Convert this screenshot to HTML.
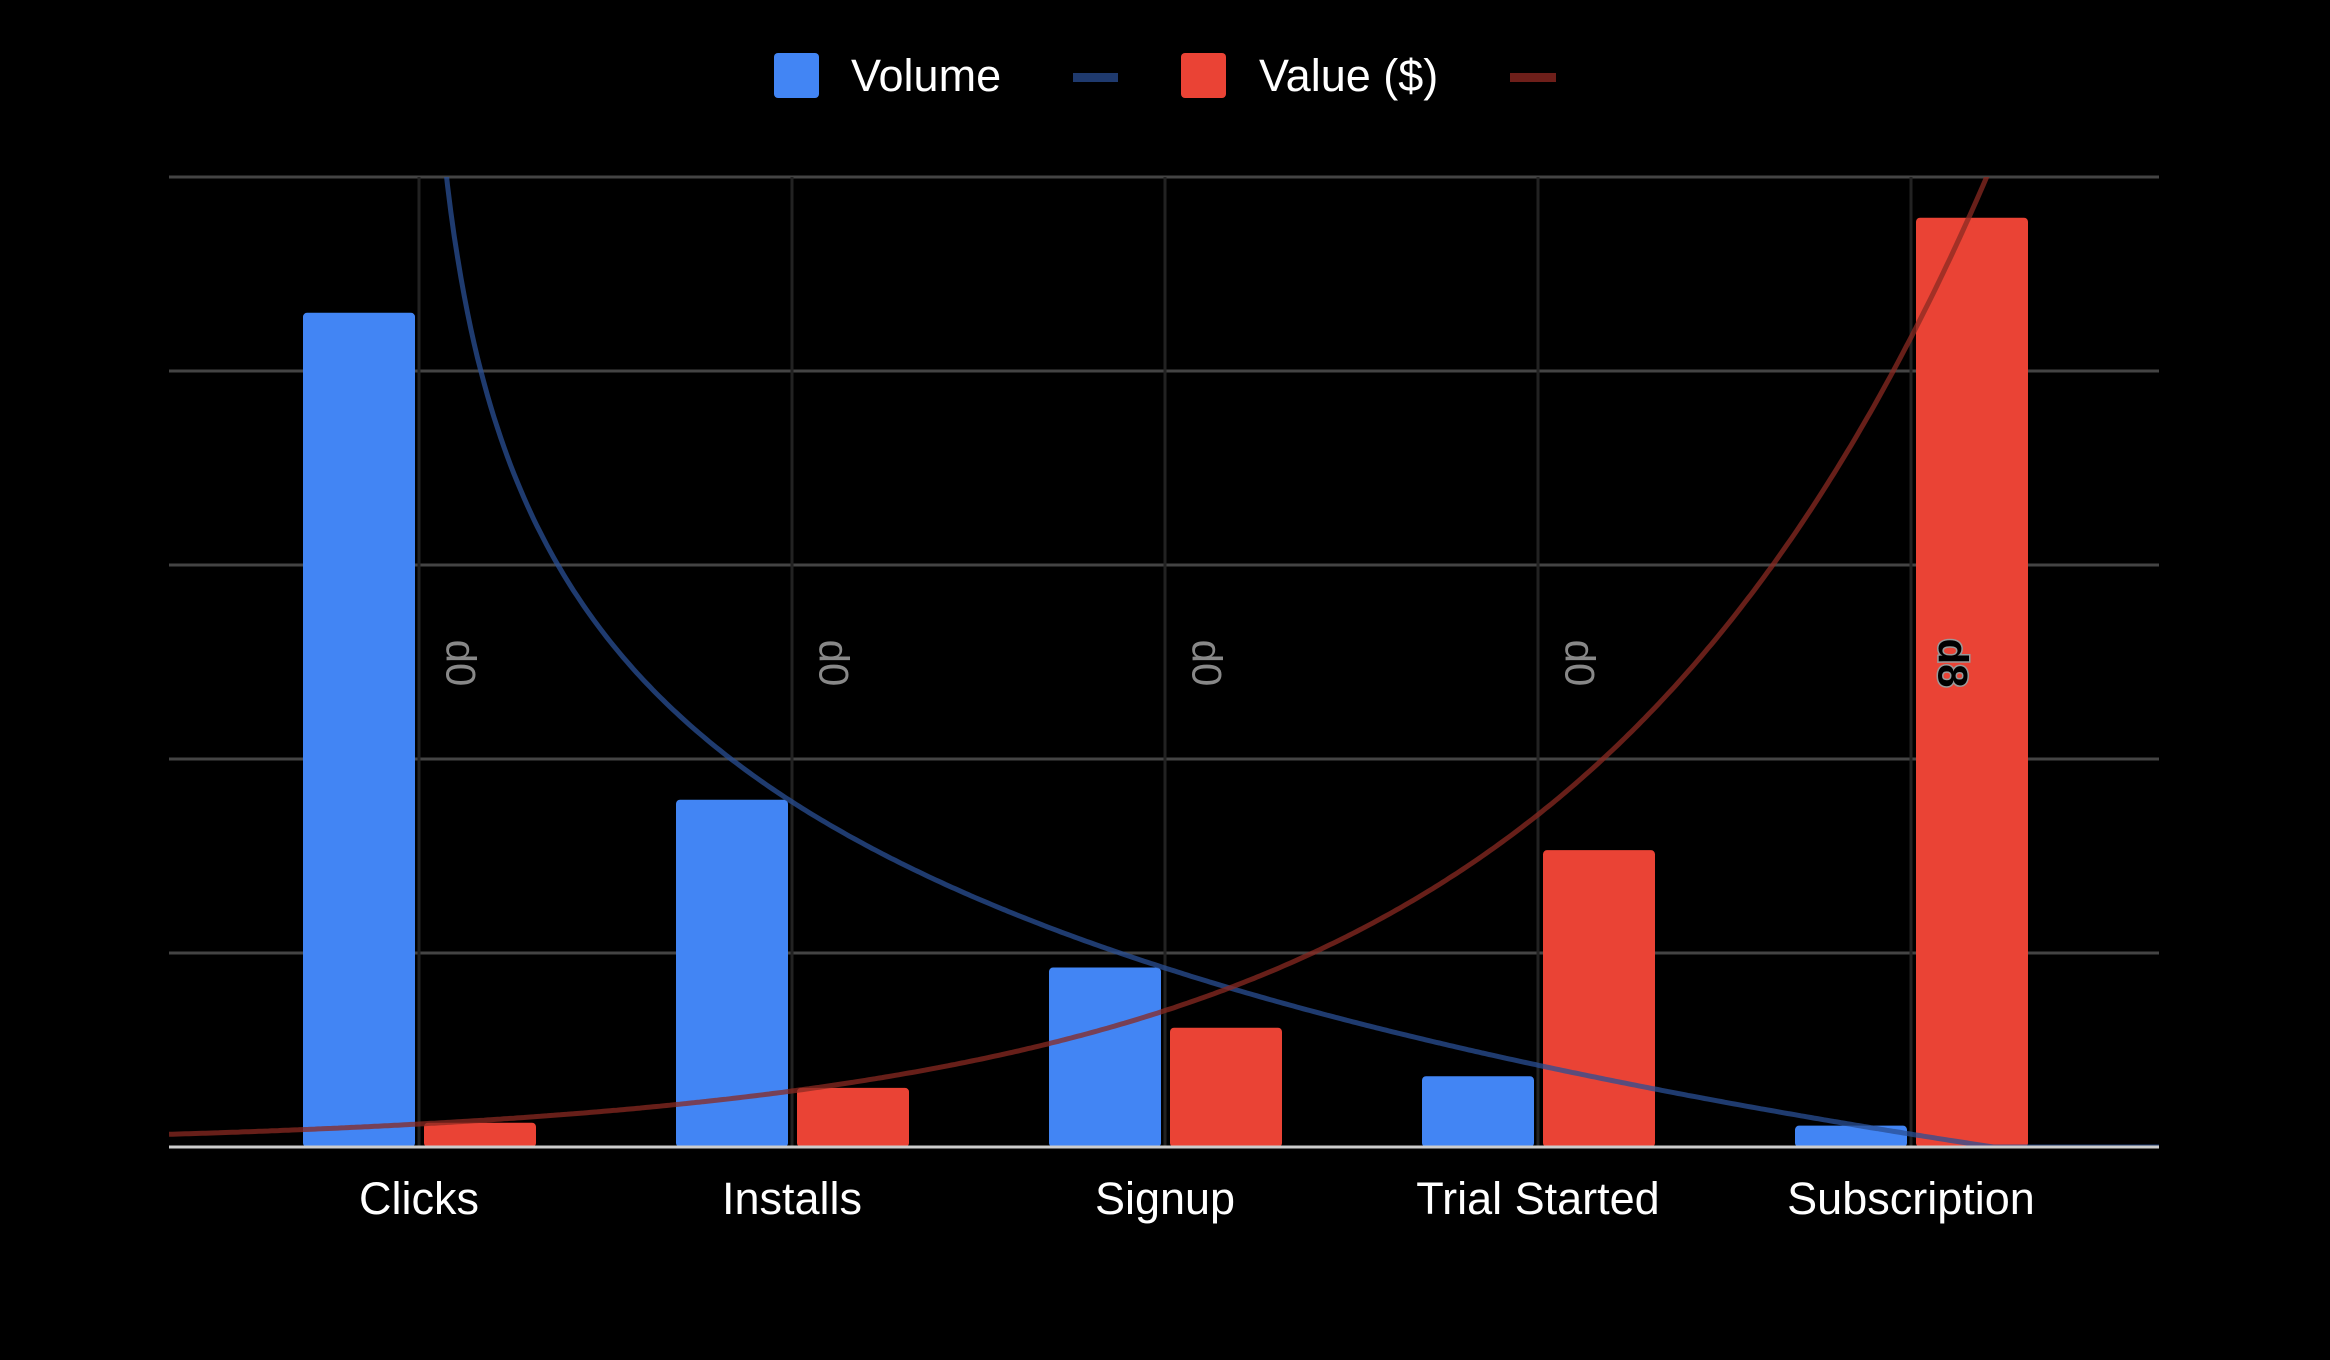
<!DOCTYPE html>
<html><head><meta charset="utf-8"><style>
html,body{margin:0;padding:0;background:#000;}
svg{display:block;font-family:"Liberation Sans",sans-serif;}
</style></head><body>
<svg id="chart" width="2330" height="1360" viewBox="0 0 2330 1360" xmlns="http://www.w3.org/2000/svg">
<rect x="0" y="0" width="2330" height="1360" fill="#000"/>
<g>
  <rect x="774" y="53" width="45" height="45" rx="4" fill="#4285f4"/>
  <text x="851" y="91" font-size="45" fill="#fff">Volume</text>
  <rect x="1073" y="73" width="45" height="9" fill="#1f3a6e"/>
  <rect x="1181" y="53" width="45" height="45" rx="4" fill="#ea4335"/>
  <text x="1259" y="91" font-size="45" fill="#fff">Value ($)</text>
  <rect x="1510" y="73" width="46" height="9" fill="#6e1f1a"/>
</g>
<g id="grid"></g>
<g id="bars"></g>
<g id="trends"></g>
<g id="labels"></g>
<g id="xaxis"></g>
</svg>
<script>
const categories = ["Clicks","Installs","Signup","Trial Started","Subscription"];
const volume = [86, 35.8, 18.5, 7.3, 2.2];
const value = [2.5, 6.1, 12.3, 30.6, 95.8];
const pointLabels = ["d0","d0","d0","d0","d8"];
const yTicks = [0, 20, 40, 60, 80, 100];

const NS = "http://www.w3.org/2000/svg";
const plotL = 169, plotR = 2159, plotT = 177, plotB = 1147;
const yMax = 100;
const catStep = 373, cat0 = 419;
function xPos(i){ return cat0 + i * catStep; }
function yPos(v){ return plotB - (v / yMax) * (plotB - plotT); }
function mk(tag, attrs, parent){
  const el = document.createElementNS(NS, tag);
  for (const k in attrs) el.setAttribute(k, attrs[k]);
  parent.appendChild(el);
  return el;
}
const grid = document.getElementById("grid");
yTicks.forEach((t) => {
  if (t === 0) return;
  const g = mk("line", {x1: plotL, x2: plotR, y1: yPos(t), y2: yPos(t), stroke: "#444", "stroke-width": 3}, grid);
  
  
});
categories.forEach((c, i) => {
  const v = mk("line", {x1: xPos(i), x2: xPos(i), y1: plotT, y2: plotB, stroke: "#222", "stroke-width": 3}, grid);
  
  
});
const bars = document.getElementById("bars");
const bw = 112;
categories.forEach((c, i) => {
  const cx = xPos(i);
  const b1 = mk("rect", {x: cx - bw - 4, y: yPos(volume[i]), width: bw, height: plotB - yPos(volume[i]), rx: 4, fill: "#4285f4"}, bars);
  
  
  const b2 = mk("rect", {x: cx + 5, y: yPos(value[i]), width: bw, height: plotB - yPos(value[i]), rx: 4, fill: "#ea4335"}, bars);
  
  
});
const base = mk("line", {x1: plotL, x2: plotR, y1: plotB, y2: plotB, stroke: "#ccc", "stroke-width": 3}, grid.parentNode);



// trendlines: log fit for volume (x = 0-based index, x>0), exponential fit for value
function logFit(){
  let xs = [], ys = [];
  volume.forEach((v, i) => { if (i > 0) { xs.push(Math.log(i)); ys.push(v); } });
  const mx = xs.reduce((a,b)=>a+b,0)/xs.length, my = ys.reduce((a,b)=>a+b,0)/ys.length;
  let sxy = 0, sxx = 0;
  xs.forEach((x, k) => { sxy += (x-mx)*(ys[k]-my); sxx += (x-mx)*(x-mx); });
  const b = sxy/sxx; return {a: my - b*mx, b: b};
}
function expFit(){
  const xs = value.map((v,i)=>i), ys = value.map(v=>Math.log(v));
  const mx = xs.reduce((a,b)=>a+b,0)/xs.length, my = ys.reduce((a,b)=>a+b,0)/ys.length;
  let sxy = 0, sxx = 0;
  xs.forEach((x, k) => { sxy += (x-mx)*(ys[k]-my); sxx += (x-mx)*(x-mx); });
  const b = sxy/sxx; return {a: Math.exp(my - b*mx), b: b};
}
const trends = document.getElementById("trends");
const defs = mk("defs", {}, trends);
const cp = mk("clipPath", {id: "plotclip"}, defs);
mk("rect", {x: plotL, y: plotT, width: plotR - plotL, height: plotB - plotT}, cp);
const lf = logFit(), ef = expFit();
const xStart = (plotL - cat0) / catStep, xEnd = (plotR - cat0) / catStep;
let dL = "", dE = "";
for (let s = 0; s <= 600; s++) {
  const t = xStart + (xEnd - xStart) * s / 600;
  if (t > 0.001) {
    const yv = Math.max(lf.a + lf.b * Math.log(t), 0);
    const py = Math.max(yPos(yv), plotT - 200);
    dL += (dL ? "L" : "M") + xPos(t).toFixed(1) + "," + py.toFixed(1);
  }
  const ev = ef.a * Math.exp(ef.b * t);
  dE += (dE ? "L" : "M") + xPos(t).toFixed(1) + "," + Math.max(yPos(ev), plotT - 200).toFixed(1);
}
const tl = mk("path", {d: dL, fill: "none", stroke: "#2a4f94", "stroke-opacity": 0.75, "stroke-width": 5, "clip-path": "url(#plotclip)"}, trends);


const te = mk("path", {d: dE, fill: "none", stroke: "#8a2a22", "stroke-opacity": 0.75, "stroke-width": 5, "clip-path": "url(#plotclip)"}, trends);



const labels = document.getElementById("labels");
categories.forEach((c, i) => {
  const lx = xPos(i) + 42, ly = 663;
  const special = pointLabels[i] !== "d0";
  const t = mk("text", {x: lx, y: ly, "font-size": 42, "text-anchor": "middle", "dominant-baseline": "central",
    transform: "rotate(90 " + lx + " " + ly + ")",
    fill: special ? "#000" : "#888", stroke: special ? "#999" : "none", "stroke-width": special ? 3 : 0,
    "paint-order": "stroke", "font-weight": special ? "bold" : "normal"}, labels);
  t.textContent = pointLabels[i];
  
  
});
const xaxis = document.getElementById("xaxis");
categories.forEach((c, i) => {
  const t = mk("text", {x: xPos(i), y: 1214, "font-size": 45, "text-anchor": "middle", fill: "#fff"}, xaxis);
  t.textContent = c;
  
  
});
</script>
</body></html>
